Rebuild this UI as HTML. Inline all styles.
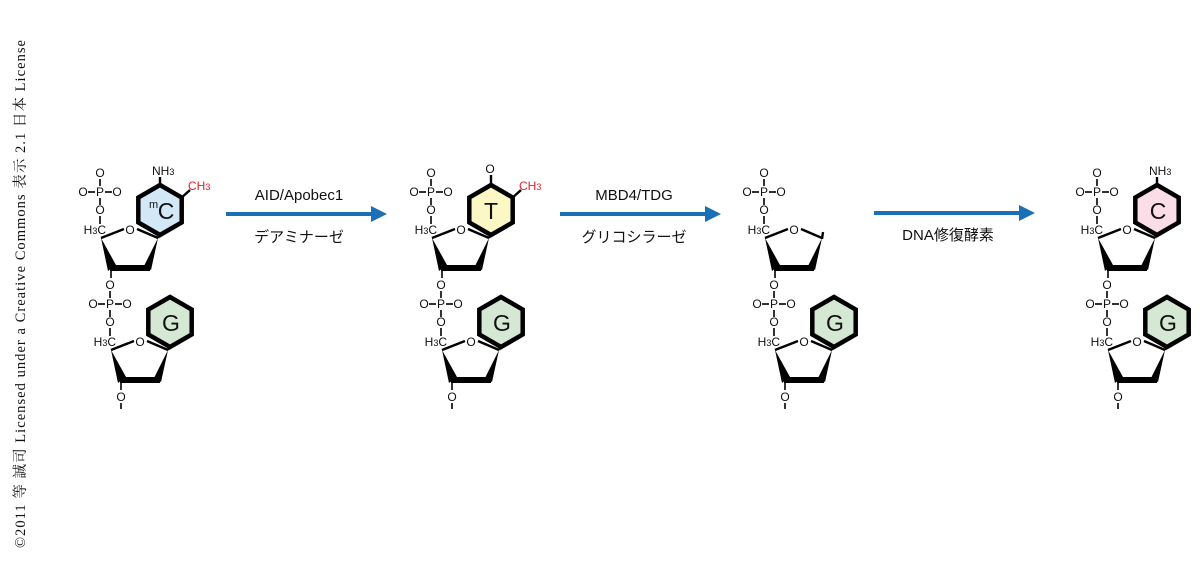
<!DOCTYPE html>
<html><head><meta charset="utf-8"><style>
html,body{margin:0;padding:0;background:#fff;width:1200px;height:561px;overflow:hidden}
svg{display:block}
text{font-family:"Liberation Sans","Noto Sans CJK JP",sans-serif;fill:#111}
.a{font-size:12px;text-anchor:middle}
.e{font-size:12px;text-anchor:end}
.b{font-size:23px;text-anchor:middle}
.l{font-size:15px;text-anchor:middle}
.r{fill:#e8202a;font-size:12px}
line,polyline{stroke:#000;stroke-width:1.6}
.t{stroke-width:2.4}
.hx{stroke:#000;stroke-width:4.5;stroke-linejoin:miter}
</style></head><body>
<svg width="1200" height="561" viewBox="0 0 1200 561" xmlns="http://www.w3.org/2000/svg">
<text transform="translate(25,548) rotate(-90)" font-family="Liberation Serif,Noto Serif CJK SC,serif" font-size="14.5" textLength="508" style="font-family:'Liberation Serif','Noto Serif CJK SC',serif">©2011 等 誠司 Licensed under a Creative Commons 表示 2.1 日本 License</text>

<!-- arrows -->
<g fill="#1a6fb5">
<rect x="226" y="212" width="147" height="4"/><polygon points="371,206 387,214 371,222"/>
<rect x="560" y="212" width="147" height="4"/><polygon points="705,206 721,214 705,222"/>
<rect x="874" y="211" width="147" height="4"/><polygon points="1019,205 1035,213 1019,221"/>
</g>
<text class="l" x="299" y="200">AID/Apobec1</text>
<text class="l" x="299" y="242">デアミナーゼ</text>
<text class="l" x="634" y="200">MBD4/TDG</text>
<text class="l" x="634" y="242">グリコシラーゼ</text>
<text class="l" x="948" y="240">DNA修復酵素</text>

<!-- templates repeated per column -->
<!-- COLUMN 1 -->
<g transform="translate(0,0)">
 <g>
  <text class="a" x="100" y="177">O</text><line x1="100" y1="179" x2="100" y2="186"/>
  <text class="a" x="83" y="196">O</text><line x1="88" y1="192" x2="95" y2="192"/><text class="a" x="100" y="196">P</text><line x1="105" y1="192" x2="112" y2="192"/><text class="a" x="117" y="196">O</text>
  <line x1="100" y1="198" x2="100" y2="205"/><text class="a" x="100" y="214">O</text><line x1="100" y1="216" x2="100" y2="224"/>
  <text class="e" x="106" y="234">H<tspan font-size="9">3</tspan>C</text>
  <line class="t" x1="101" y1="238" x2="124" y2="229"/><text class="a" x="130" y="234">O</text><line class="t" x1="137" y1="229" x2="158" y2="238"/>
  <polygon points="158,238 151,270 144,266"/><line x1="110" y1="268" x2="150" y2="268" style="stroke-width:6"/><polygon points="101,238 108,271 116,265"/>
  <line x1="111" y1="268" x2="111" y2="278"/>
  <polygon class="hx" fill="#d3e8f6" points="160,185 181.7,197.5 181.7,222.5 160,235 138.3,222.5 138.3,197.5"/>
  <line class="t" x1="158" y1="238" x2="160" y2="234"/>
  <text class="b" x="166" y="219">C</text><text x="149" y="208" font-size="11">m</text>
  <line class="t" x1="160" y1="185" x2="160" y2="177"/><text x="152" y="175" font-size="12">NH<tspan font-size="9">3</tspan></text>
  <line class="t" x1="181.7" y1="197.5" x2="190" y2="190"/><text class="r" x="188" y="190">CH<tspan font-size="9">3</tspan></text>
 </g>
 <g transform="translate(10,112)">
  <text class="a" x="100" y="177">O</text><line x1="100" y1="179" x2="100" y2="186"/>
  <text class="a" x="83" y="196">O</text><line x1="88" y1="192" x2="95" y2="192"/><text class="a" x="100" y="196">P</text><line x1="105" y1="192" x2="112" y2="192"/><text class="a" x="117" y="196">O</text>
  <line x1="100" y1="198" x2="100" y2="205"/><text class="a" x="100" y="214">O</text><line x1="100" y1="216" x2="100" y2="224"/>
  <text class="e" x="106" y="234">H<tspan font-size="9">3</tspan>C</text>
  <line class="t" x1="101" y1="238" x2="124" y2="229"/><text class="a" x="130" y="234">O</text><line class="t" x1="137" y1="229" x2="158" y2="238"/>
  <polygon points="158,238 151,270 144,266"/><line x1="110" y1="268" x2="150" y2="268" style="stroke-width:6"/><polygon points="101,238 108,271 116,265"/>
  <line x1="111" y1="268" x2="111" y2="278"/>
  <polygon class="hx" fill="#d5e8d4" points="160,185 181.7,197.5 181.7,222.5 160,235 138.3,222.5 138.3,197.5"/>
  <line class="t" x1="158" y1="238" x2="160" y2="234"/>
  <text class="b" x="161" y="219">G</text>
  <text class="a" x="111" y="289">O</text><line x1="111" y1="291" x2="111" y2="297"/>
 </g>
</g>

<!-- COLUMN 2 -->
<g transform="translate(331,0)">
 <g>
  <text class="a" x="100" y="177">O</text><line x1="100" y1="179" x2="100" y2="186"/>
  <text class="a" x="83" y="196">O</text><line x1="88" y1="192" x2="95" y2="192"/><text class="a" x="100" y="196">P</text><line x1="105" y1="192" x2="112" y2="192"/><text class="a" x="117" y="196">O</text>
  <line x1="100" y1="198" x2="100" y2="205"/><text class="a" x="100" y="214">O</text><line x1="100" y1="216" x2="100" y2="224"/>
  <text class="e" x="106" y="234">H<tspan font-size="9">3</tspan>C</text>
  <line class="t" x1="101" y1="238" x2="124" y2="229"/><text class="a" x="130" y="234">O</text><line class="t" x1="137" y1="229" x2="158" y2="238"/>
  <polygon points="158,238 151,270 144,266"/><line x1="110" y1="268" x2="150" y2="268" style="stroke-width:6"/><polygon points="101,238 108,271 116,265"/>
  <line x1="111" y1="268" x2="111" y2="278"/>
  <polygon class="hx" fill="#fcf8c6" points="160,185 181.7,197.5 181.7,222.5 160,235 138.3,222.5 138.3,197.5"/>
  <line class="t" x1="158" y1="238" x2="160" y2="234"/>
  <text class="b" x="160" y="219">T</text>
  <line class="t" x1="160" y1="185" x2="160" y2="175"/><text class="a" x="159" y="173">O</text>
  <line class="t" x1="181.7" y1="197.5" x2="190" y2="190"/><text class="r" x="188" y="190">CH<tspan font-size="9">3</tspan></text>
 </g>
 <g transform="translate(10,112)">
  <text class="a" x="100" y="177">O</text><line x1="100" y1="179" x2="100" y2="186"/>
  <text class="a" x="83" y="196">O</text><line x1="88" y1="192" x2="95" y2="192"/><text class="a" x="100" y="196">P</text><line x1="105" y1="192" x2="112" y2="192"/><text class="a" x="117" y="196">O</text>
  <line x1="100" y1="198" x2="100" y2="205"/><text class="a" x="100" y="214">O</text><line x1="100" y1="216" x2="100" y2="224"/>
  <text class="e" x="106" y="234">H<tspan font-size="9">3</tspan>C</text>
  <line class="t" x1="101" y1="238" x2="124" y2="229"/><text class="a" x="130" y="234">O</text><line class="t" x1="137" y1="229" x2="158" y2="238"/>
  <polygon points="158,238 151,270 144,266"/><line x1="110" y1="268" x2="150" y2="268" style="stroke-width:6"/><polygon points="101,238 108,271 116,265"/>
  <line x1="111" y1="268" x2="111" y2="278"/>
  <polygon class="hx" fill="#d5e8d4" points="160,185 181.7,197.5 181.7,222.5 160,235 138.3,222.5 138.3,197.5"/>
  <line class="t" x1="158" y1="238" x2="160" y2="234"/>
  <text class="b" x="161" y="219">G</text>
  <text class="a" x="111" y="289">O</text><line x1="111" y1="291" x2="111" y2="297"/>
 </g>
</g>

<!-- COLUMN 3 -->
<g transform="translate(664,0)">
 <g>
  <text class="a" x="100" y="177">O</text><line x1="100" y1="179" x2="100" y2="186"/>
  <text class="a" x="83" y="196">O</text><line x1="88" y1="192" x2="95" y2="192"/><text class="a" x="100" y="196">P</text><line x1="105" y1="192" x2="112" y2="192"/><text class="a" x="117" y="196">O</text>
  <line x1="100" y1="198" x2="100" y2="205"/><text class="a" x="100" y="214">O</text><line x1="100" y1="216" x2="100" y2="224"/>
  <text class="e" x="106" y="234">H<tspan font-size="9">3</tspan>C</text>
  <line class="t" x1="101" y1="238" x2="124" y2="229"/><text class="a" x="130" y="234">O</text><line class="t" x1="137" y1="229" x2="158" y2="238"/>
  <polygon points="158,238 151,270 144,266"/><line x1="110" y1="268" x2="150" y2="268" style="stroke-width:6"/><polygon points="101,238 108,271 116,265"/>
  <line x1="111" y1="268" x2="111" y2="278"/>
  <line class="t" x1="158" y1="239" x2="159" y2="232"/>
 </g>
 <g transform="translate(10,112)">
  <text class="a" x="100" y="177">O</text><line x1="100" y1="179" x2="100" y2="186"/>
  <text class="a" x="83" y="196">O</text><line x1="88" y1="192" x2="95" y2="192"/><text class="a" x="100" y="196">P</text><line x1="105" y1="192" x2="112" y2="192"/><text class="a" x="117" y="196">O</text>
  <line x1="100" y1="198" x2="100" y2="205"/><text class="a" x="100" y="214">O</text><line x1="100" y1="216" x2="100" y2="224"/>
  <text class="e" x="106" y="234">H<tspan font-size="9">3</tspan>C</text>
  <line class="t" x1="101" y1="238" x2="124" y2="229"/><text class="a" x="130" y="234">O</text><line class="t" x1="137" y1="229" x2="158" y2="238"/>
  <polygon points="158,238 151,270 144,266"/><line x1="110" y1="268" x2="150" y2="268" style="stroke-width:6"/><polygon points="101,238 108,271 116,265"/>
  <line x1="111" y1="268" x2="111" y2="278"/>
  <polygon class="hx" fill="#d5e8d4" points="160,185 181.7,197.5 181.7,222.5 160,235 138.3,222.5 138.3,197.5"/>
  <line class="t" x1="158" y1="238" x2="160" y2="234"/>
  <text class="b" x="161" y="219">G</text>
  <text class="a" x="111" y="289">O</text><line x1="111" y1="291" x2="111" y2="297"/>
 </g>
</g>

<!-- COLUMN 4 -->
<g transform="translate(997,0)">
 <g>
  <text class="a" x="100" y="177">O</text><line x1="100" y1="179" x2="100" y2="186"/>
  <text class="a" x="83" y="196">O</text><line x1="88" y1="192" x2="95" y2="192"/><text class="a" x="100" y="196">P</text><line x1="105" y1="192" x2="112" y2="192"/><text class="a" x="117" y="196">O</text>
  <line x1="100" y1="198" x2="100" y2="205"/><text class="a" x="100" y="214">O</text><line x1="100" y1="216" x2="100" y2="224"/>
  <text class="e" x="106" y="234">H<tspan font-size="9">3</tspan>C</text>
  <line class="t" x1="101" y1="238" x2="124" y2="229"/><text class="a" x="130" y="234">O</text><line class="t" x1="137" y1="229" x2="158" y2="238"/>
  <polygon points="158,238 151,270 144,266"/><line x1="110" y1="268" x2="150" y2="268" style="stroke-width:6"/><polygon points="101,238 108,271 116,265"/>
  <line x1="111" y1="268" x2="111" y2="278"/>
  <polygon class="hx" fill="#fbdde7" points="160,185 181.7,197.5 181.7,222.5 160,235 138.3,222.5 138.3,197.5"/>
  <line class="t" x1="158" y1="238" x2="160" y2="234"/>
  <text class="b" x="161" y="219">C</text>
  <line class="t" x1="160" y1="185" x2="160" y2="177"/><text x="152" y="175" font-size="12">NH<tspan font-size="9">3</tspan></text>
 </g>
 <g transform="translate(10,112)">
  <text class="a" x="100" y="177">O</text><line x1="100" y1="179" x2="100" y2="186"/>
  <text class="a" x="83" y="196">O</text><line x1="88" y1="192" x2="95" y2="192"/><text class="a" x="100" y="196">P</text><line x1="105" y1="192" x2="112" y2="192"/><text class="a" x="117" y="196">O</text>
  <line x1="100" y1="198" x2="100" y2="205"/><text class="a" x="100" y="214">O</text><line x1="100" y1="216" x2="100" y2="224"/>
  <text class="e" x="106" y="234">H<tspan font-size="9">3</tspan>C</text>
  <line class="t" x1="101" y1="238" x2="124" y2="229"/><text class="a" x="130" y="234">O</text><line class="t" x1="137" y1="229" x2="158" y2="238"/>
  <polygon points="158,238 151,270 144,266"/><line x1="110" y1="268" x2="150" y2="268" style="stroke-width:6"/><polygon points="101,238 108,271 116,265"/>
  <line x1="111" y1="268" x2="111" y2="278"/>
  <polygon class="hx" fill="#d5e8d4" points="160,185 181.7,197.5 181.7,222.5 160,235 138.3,222.5 138.3,197.5"/>
  <line class="t" x1="158" y1="238" x2="160" y2="234"/>
  <text class="b" x="161" y="219">G</text>
  <text class="a" x="111" y="289">O</text><line x1="111" y1="291" x2="111" y2="297"/>
 </g>
</g>
</svg>
</body></html>
